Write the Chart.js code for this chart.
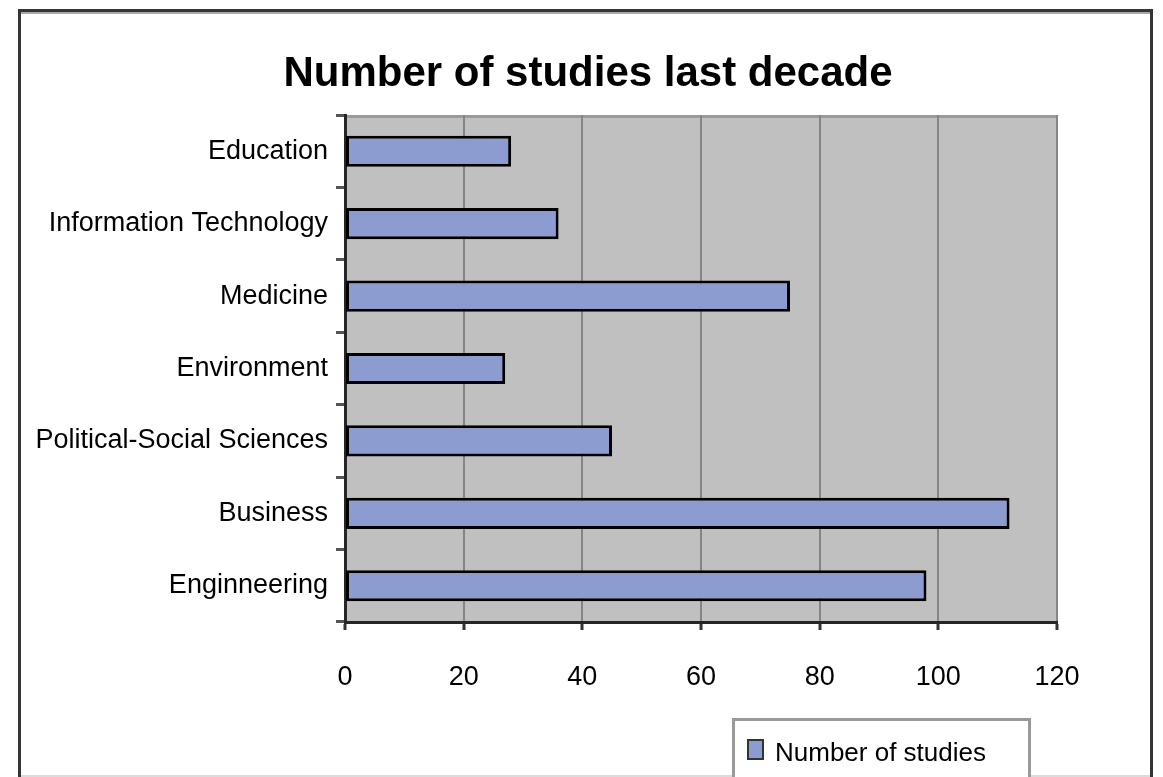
<!DOCTYPE html>
<html>
<head>
<meta charset="utf-8">
<script src="https://cdn.jsdelivr.net/npm/chart.js@4.4.1/dist/chart.umd.min.js"></script>
<style>
  html, body { margin: 0; padding: 0; background: #fff; }
  #wrap { width: 1163px; height: 777px; position: relative; }
</style>
</head>
<body>
<div id="wrap"><canvas id="c" width="1163" height="777"></canvas></div>
<script>
// Chart data
const categories = ['Education', 'Information Technology', 'Medicine', 'Environment',
                    'Political-Social Sciences', 'Business', 'Enginneering'];
const studies = [28, 36, 75, 27, 45, 112, 98];
const xTicks = [0, 20, 40, 60, 80, 100, 120];
const seriesName = 'Number of studies';
const titleText = 'Number of studies last decade';

const SANS = "'Liberation Sans', Arial, sans-serif";

// grey plot background and a light top edge
const plotBackground = {
  id: 'plotBackground',
  beforeDraw(chart) {
    const { ctx, chartArea: a } = chart;
    ctx.save();
    ctx.fillStyle = '#c0c0c0';
    ctx.fillRect(a.left, a.top, a.right - a.left, a.bottom - a.top);
    ctx.strokeStyle = '#9a9a9a';
    ctx.lineWidth = 3;
    ctx.beginPath();
    ctx.moveTo(a.left, a.top + 1.5);
    ctx.lineTo(a.right, a.top + 1.5);
    ctx.stroke();
    ctx.restore();
  }
};

// title, outer frame and the boxed legend at the lower right
const frameAndLegend = {
  id: 'frameAndLegend',
  afterDraw(chart) {
    const { ctx } = chart;
    const W = chart.width, H = chart.height;
    ctx.save();
    // title
    ctx.fillStyle = '#000';
    ctx.font = 'bold 42px ' + SANS;
    ctx.textAlign = 'center';
    ctx.textBaseline = 'alphabetic';
    ctx.fillText(titleText, 588, 86);

    // frame
    ctx.strokeStyle = '#a8a8a8';
    ctx.lineWidth = 2;
    ctx.beginPath();
    ctx.moveTo(21, 13); ctx.lineTo(W - 12, 13);
    ctx.stroke();
    ctx.strokeStyle = '#dcdcdc';
    ctx.beginPath();
    ctx.moveTo(21, H - 1); ctx.lineTo(W - 12, H - 1);
    ctx.stroke();
    ctx.strokeStyle = '#353535';
    ctx.lineWidth = 3;
    ctx.beginPath();
    ctx.moveTo(19.5, H); ctx.lineTo(19.5, 10.5); ctx.lineTo(W - 11.5, 10.5); ctx.lineTo(W - 11.5, H);
    ctx.stroke();

    // legend box
    const ds = chart.data.datasets[0];
    ctx.fillStyle = '#ffffff';
    ctx.fillRect(733, 719, 296, 70);
    ctx.strokeStyle = '#9a9a9a';
    ctx.lineWidth = 3;
    ctx.strokeRect(733.5, 719.5, 296, 70);
    ctx.fillStyle = ds.backgroundColor;
    ctx.fillRect(748, 740, 15, 19);
    ctx.strokeStyle = '#333';
    ctx.lineWidth = 2;
    ctx.strokeRect(748, 740, 15, 19);
    ctx.fillStyle = '#000';
    ctx.font = '26px ' + SANS;
    ctx.textBaseline = 'middle';
    ctx.textAlign = 'left';
    ctx.fillText(ds.label, 775, 754);
    ctx.restore();
  }
};

new Chart(document.getElementById('c'), {
  type: 'bar',
  data: {
    labels: categories,
    datasets: [{
      label: seriesName,
      data: studies,
      backgroundColor: '#8c9cd0',
      borderColor: '#000000',
      borderWidth: 3,
      borderSkipped: false,
      barPercentage: 0.43,
      categoryPercentage: 1.0
    }]
  },
  options: {
    indexAxis: 'y',
    responsive: false,
    animation: false,
    devicePixelRatio: 1,
    layout: { padding: { left: 0, right: 106, top: 115, bottom: 0 } },
    plugins: {
      legend: { display: false },
      tooltip: { enabled: false },
      title: { display: false }
    },
    scales: {
      x: {
        type: 'linear',
        position: 'bottom',
        min: 0,
        max: 120,
        afterBuildTicks(scale) { scale.ticks = xTicks.map(v => ({ value: v })); },
        afterFit(scale) { scale.height = 155; },
        ticks: {
          color: '#000',
          padding: 31,
          font: { family: SANS, size: 27 }
        },
        grid: {
          color: '#858585',
          lineWidth: 2,
          tickLength: 8,
          tickColor: '#333',
          tickWidth: 3
        },
        border: { color: '#262626', width: 3 }
      },
      y: {
        type: 'category',
        afterFit(scale) { scale.width = 345; },
        ticks: {
          color: '#000',
          padding: 8,
          font: { family: SANS, size: 27 }
        },
        grid: {
          offset: true,
          drawOnChartArea: false,
          tickLength: 9,
          tickColor: '#555',
          tickWidth: 3
        },
        border: { color: '#262626', width: 3 }
      }
    }
  },
  plugins: [plotBackground, frameAndLegend]
});
</script>
</body>
</html>
